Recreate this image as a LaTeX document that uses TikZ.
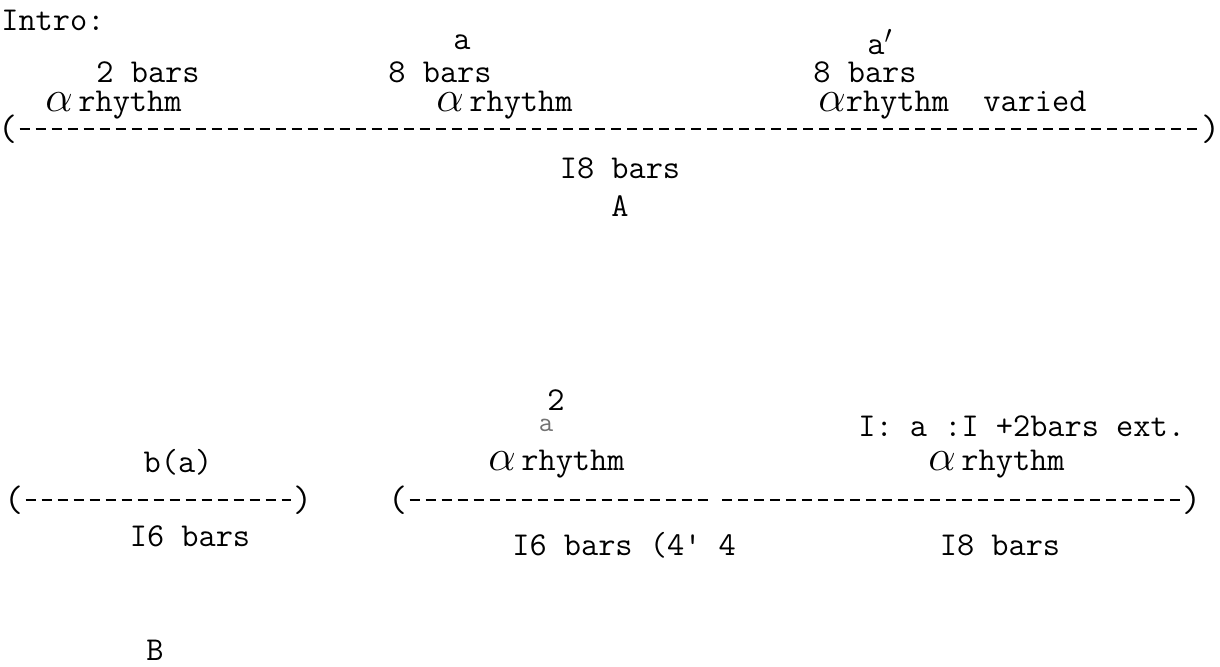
\documentclass[tikz,border=0pt]{standalone}
\usepackage{fontspec}
\usepackage{tikz}
\usetikzlibrary{positioning}

\tikzset{
	tw/.style={font=\fontsize{19}{21}\selectfont\ttfamily, inner sep=0pt},
	paren/.style={font=\fontsize{21}{22}\selectfont\ttfamily, inner sep=1pt},
	typed/.style={line width=1.3pt, dash pattern=on 0.2cm off 0.12cm},
}
\newcommand{\alf}{{\fontsize{27}{27}\selectfont$\alpha$}}

\begin{document}
\begin{tikzpicture}[x=0.02cm, y=-0.02cm]
	\useasboundingbox (0,0) rectangle (1220,666);
	
	% section A: three labels per part
	\node[tw, anchor=west] (intro) at (1,20) {Intro:};
	\node[tw] (a) at (462,42) {a};
	\node[tw] (aprime) at (880,42) {a$'$};
	
	\node[tw] (barsintro) at (148,72) {2 bars};
	\node[tw] (barsa) at (440,72) {8 bars};
	\node[tw] (barsaprime) at (865,72) {8 bars};
	
	\node[tw, anchor=west] (rhyintro) at (45,105) {\alf\,rhythm};
	\node[tw, anchor=west] (rhya) at (436,105) {\alf\,rhythm};
	\node[tw, anchor=west] (rhyaprime) at (818,105) {\alf rhythm\ \ varied};
	
	% dashed span of A
	\node[paren] (lparA) at (8,129) {(};
	\node[paren] (rparA) at (1211,129) {)};
	\draw[typed] (lparA.east) -- (rparA.west);
	
	\node[tw] (barsA) at (620,168) {I8 bars};
	\node[tw, below=0.32cm of barsA] (A) {A};
	
	% section B
	\node[tw] (two) at (556,400) {2};
	\node[tw, font=\fontsize{16}{16}\selectfont\ttfamily, text=black!55] (asmall) at (546,425) {a};
	\node[tw, anchor=west] (repeat) at (858,426) {I: a :I +2bars ext.};
	
	\node[tw] (ba) at (178,462) {b(a)};
	\node[tw, anchor=west] (rhymid) at (488,464) {\alf\,rhythm};
	\node[tw, anchor=west] (rhyright) at (928,464) {\alf\,rhythm};
	
	% dashed spans of B
	\node[paren] (lparB) at (14,500) {(};
	\node[paren] (rparB) at (303,500) {)};
	\draw[typed] (lparB.east) -- (rparB.west);
	
	\node[paren] (lparC) at (398,500) {(};
	\node[paren] (rparC) at (1192,500) {)};
	\coordinate (gapl) at (712,500);
	\coordinate (gapr) at (722,500);
	\draw[typed] (lparC.east) -- (gapl);
	\draw[typed] (gapr) -- (rparC.west);
	
	\node[tw] (barsB) at (190,536) {I6 bars};
	\node[tw, anchor=west] (barsmid) at (512,545) {I6 bars (4' 4};
	\node[tw] (barsright) at (1000,545) {I8 bars};
	\node[tw] (B) at (155,650) {B};
\end{tikzpicture}
\end{document}
